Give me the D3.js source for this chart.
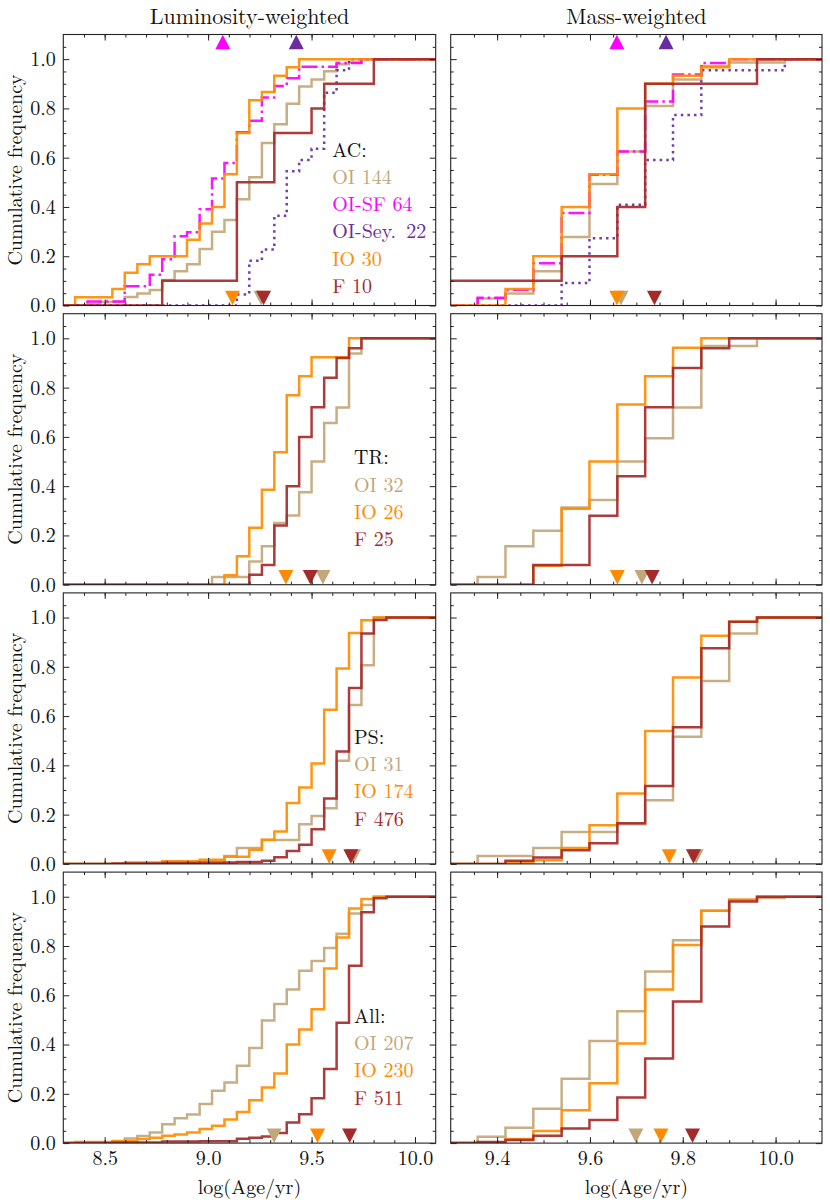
<!DOCTYPE html>
<html>
<head>
<meta charset="utf-8">
<script src="https://cdn.jsdelivr.net/npm/d3@7"></script>
<style>
body { margin: 0; background: #fff; }
svg { display: block; }
text { font-family: "Latin Modern Roman", "CMU Serif", "Liberation Serif", serif; white-space: pre; }
</style>
</head>
<body>
<div id="chart"></div>
<script>
// bin edges (log Age/yr) shared by every series of a column
const lumEdges = [8.357, 8.417, 8.477, 8.537, 8.597, 8.658, 8.718, 8.778, 8.838, 8.898, 8.959, 9.019, 9.079,
                  9.139, 9.199, 9.260, 9.320, 9.380, 9.440, 9.500, 9.561, 9.621, 9.681, 9.741, 9.801, 9.862];
const massEdges = [9.298, 9.358, 9.418, 9.478, 9.539, 9.599, 9.659, 9.719, 9.779, 9.840, 9.900, 9.960, 10.020];

// cumulative fractions, one value per bin (luminosity-weighted)
const acLumOI  = [0, 0.007, 0.014, 0.014, 0.035, 0.049, 0.063, 0.104, 0.139, 0.167, 0.229, 0.299, 0.347, 0.431, 0.521, 0.660, 0.736, 0.819, 0.889, 0.917, 0.951, 0.979, 0.986, 1, 1, 1];
const acLumSF  = [0, 0.016, 0.016, 0.016, 0.078, 0.078, 0.125, 0.188, 0.281, 0.297, 0.391, 0.516, 0.578, 0.703, 0.750, 0.844, 0.891, 0.922, 0.969, 0.969, 0.969, 0.984, 0.984, 1, 1, 1];
const acLumSey = [0, 0, 0, 0, 0, 0, 0, 0, 0, 0, 0, 0, 0, 0.045, 0.182, 0.227, 0.364, 0.545, 0.591, 0.636, 0.864, 0.955, 1, 1, 1, 1];
const acLumIO  = [0.033, 0.033, 0.033, 0.067, 0.133, 0.167, 0.2, 0.2, 0.2, 0.267, 0.333, 0.4, 0.533, 0.7, 0.833, 0.867, 0.933, 0.967, 1, 1, 1, 1, 1, 1, 1, 1];
const acLumF   = [0, 0, 0, 0, 0, 0, 0, 0.1, 0.1, 0.1, 0.1, 0.1, 0.1, 0.5, 0.5, 0.5, 0.7, 0.7, 0.7, 0.8, 0.9, 0.9, 0.9, 0.9, 1, 1];

const trLumOI = [0, 0, 0, 0, 0, 0, 0, 0, 0, 0, 0, 0.031, 0.031, 0.031, 0.094, 0.156, 0.25, 0.281, 0.375, 0.5, 0.656, 0.719, 0.938, 1, 1, 1];
const trLumIO = [0, 0, 0, 0, 0, 0, 0, 0, 0, 0, 0, 0, 0.038, 0.115, 0.231, 0.385, 0.538, 0.769, 0.846, 0.923, 0.923, 0.923, 1, 1, 1, 1];
const trLumF  = [0, 0, 0, 0, 0, 0, 0, 0, 0, 0, 0, 0, 0, 0, 0.04, 0.08, 0.24, 0.4, 0.6, 0.72, 0.84, 0.92, 0.96, 1, 1, 1];

const psLumOI = [0, 0, 0, 0, 0, 0, 0, 0, 0, 0, 0, 0, 0.032, 0.065, 0.065, 0.097, 0.097, 0.097, 0.161, 0.194, 0.226, 0.419, 0.645, 0.806, 1, 1];
const psLumIO = [0, 0, 0, 0, 0.006, 0.006, 0.006, 0.011, 0.011, 0.011, 0.017, 0.017, 0.029, 0.029, 0.057, 0.098, 0.132, 0.247, 0.31, 0.408, 0.626, 0.793, 0.937, 0.989, 1, 1];
const psLumF  = [0, 0, 0, 0.002, 0.002, 0.002, 0.002, 0.004, 0.004, 0.004, 0.006, 0.006, 0.006, 0.008, 0.008, 0.013, 0.027, 0.052, 0.078, 0.141, 0.265, 0.456, 0.714, 0.935, 0.99, 1];

const allLumOI = [0, 0, 0, 0, 0.019, 0.029, 0.043, 0.077, 0.101, 0.116, 0.159, 0.213, 0.246, 0.314, 0.386, 0.498, 0.565, 0.623, 0.7, 0.739, 0.792, 0.85, 0.932, 0.966, 1, 1];
const allLumIO = [0.004, 0.004, 0.004, 0.009, 0.009, 0.017, 0.022, 0.03, 0.035, 0.043, 0.057, 0.07, 0.096, 0.126, 0.174, 0.226, 0.283, 0.4, 0.461, 0.543, 0.709, 0.835, 0.952, 0.991, 1, 1];
const allLumF  = [0, 0, 0, 0.002, 0.002, 0.002, 0.002, 0.006, 0.006, 0.006, 0.008, 0.008, 0.008, 0.018, 0.022, 0.027, 0.041, 0.084, 0.117, 0.182, 0.301, 0.489, 0.72, 0.937, 0.994, 1];

// cumulative fractions (mass-weighted)
const acMassOI  = [0, 0.028, 0.049, 0.139, 0.278, 0.493, 0.625, 0.81, 0.917, 0.972, 0.986, 0.986, 1];
const acMassSF  = [0, 0.031, 0.063, 0.172, 0.375, 0.531, 0.625, 0.828, 0.938, 0.984, 1, 1, 1];
const acMassSey = [0, 0, 0, 0, 0.091, 0.273, 0.409, 0.591, 0.773, 0.955, 0.955, 0.955, 1];
const acMassIO  = [0, 0, 0.067, 0.2, 0.4, 0.533, 0.8, 0.9, 0.933, 0.967, 1, 1, 1];
const acMassF   = [0.1, 0.1, 0.1, 0.1, 0.2, 0.2, 0.4, 0.9, 0.9, 0.9, 0.9, 1, 1];

const trMassOI = [0, 0.031, 0.156, 0.219, 0.313, 0.344, 0.5, 0.594, 0.719, 0.969, 0.969, 1, 1];
const trMassIO = [0, 0, 0, 0.077, 0.308, 0.5, 0.731, 0.846, 0.962, 1, 1, 1, 1];
const trMassF  = [0, 0, 0, 0.08, 0.08, 0.28, 0.44, 0.72, 0.88, 0.96, 1, 1, 1];

const psMassOI = [0, 0.032, 0.032, 0.065, 0.129, 0.129, 0.161, 0.258, 0.516, 0.742, 0.935, 1, 1];
const psMassIO = [0, 0, 0.006, 0.015, 0.065, 0.157, 0.286, 0.539, 0.757, 0.926, 0.983, 1, 1];
const psMassF  = [0, 0, 0.013, 0.026, 0.055, 0.084, 0.165, 0.316, 0.555, 0.875, 0.983, 1, 1];

const allMassOI = [0, 0.026, 0.062, 0.139, 0.261, 0.414, 0.535, 0.697, 0.823, 0.943, 0.988, 0.995, 1];
const allMassIO = [0, 0, 0.017, 0.049, 0.133, 0.243, 0.404, 0.623, 0.804, 0.943, 0.988, 1, 1];
const allMassF  = [0, 0.004, 0.013, 0.03, 0.059, 0.094, 0.185, 0.343, 0.575, 0.879, 0.981, 1, 1];

// medians (triangles), same order as the series of each panel
const acLumMed  = [9.256, 9.071, 9.426, 9.118, 9.268];
const acMassMed = [9.667, 9.658, 9.764, 9.658, 9.739];
const trLumMed  = [9.555, 9.376, 9.494];
const trMassMed = [9.712, 9.659, 9.734];
const psLumMed  = [9.703, 9.585, 9.690];
const psMassMed = [9.829, 9.771, 9.823];
const allLumMed = [9.319, 9.529, 9.684];
const allMassMed = [9.699, 9.753, 9.821];

// sample sizes for the legends
const acCounts  = [144, 64, 22, 30, 10];
const trCounts  = [32, 26, 25];
const psCounts  = [31, 174, 476];
const allCounts = [207, 230, 511];

const colTitles = ["Luminosity-weighted", "Mass-weighted"];
const lumTicks = [8.5, 9.0, 9.5, 10.0];
const massTicks = [9.4, 9.6, 9.8, 10.0];
const yTicks = [0, 0.2, 0.4, 0.6, 0.8, 1.0];

const styles = {
    OI:  { color: "#c2a77a", dash: null, label: "OI " },
    SF:  { color: "#ff00ff", dash: "16,4,2.5,4", label: "OI-SF " },
    Sey: { color: "#6a2d9f", dash: "2.5,4.1", label: "OI-Sey.\u2002" },
    IO:  { color: "#ff8c00", dash: null, label: "IO " },
    F:   { color: "#a52a2a", dash: null, label: "F " }
};

const rows = [
    { head: "AC:", keys: ["OI", "SF", "Sey", "IO", "F"], counts: acCounts,
      lum: [acLumOI, acLumSF, acLumSey, acLumIO, acLumF], mass: [acMassOI, acMassSF, acMassSey, acMassIO, acMassF],
      lumMed: acLumMed, massMed: acMassMed },
    { head: "TR:", keys: ["OI", "IO", "F"], counts: trCounts,
      lum: [trLumOI, trLumIO, trLumF], mass: [trMassOI, trMassIO, trMassF], lumMed: trLumMed, massMed: trMassMed },
    { head: "PS:", keys: ["OI", "IO", "F"], counts: psCounts,
      lum: [psLumOI, psLumIO, psLumF], mass: [psMassOI, psMassIO, psMassF], lumMed: psLumMed, massMed: psMassMed },
    { head: "All:", keys: ["OI", "IO", "F"], counts: allCounts,
      lum: [allLumOI, allLumIO, allLumF], mass: [allMassOI, allMassIO, allMassF], lumMed: allLumMed, massMed: allMassMed }
];

const W = 830, H = 1203;
const rowTop = 34.5, rowH = 271, rowGap = 8.2;
const fontSize = 20;

var svg = d3.select("#chart").append("svg").attr("width", W).attr("height", H);

var xLum = d3.scaleLinear().domain([8.3, 10.1]).range([63.3, 435.7]);
var xMass = d3.scaleLinear().domain([9.3, 10.1]).range([450.7, 822]);
var columns = [
    { x: xLum, edges: lumEdges, ticks: lumTicks, minor: d3.range(8.4, 10.05, 0.1), field: "lum", med: "lumMed" },
    { x: xMass, edges: massEdges, ticks: massTicks, minor: d3.range(9.35, 10.08, 0.05), field: "mass", med: "massMed" }
];

// column titles
columns.forEach(function(c, ci) {
    var r = c.x.range();
    svg.append("text").attr("x", (r[0] + r[1]) / 2).attr("y", 24)
        .attr("text-anchor", "middle").attr("font-size", 22).attr("fill", "#111")
        .text(colTitles[ci]);
});

function triangle(up) {
    var w = 15, h = 14.5;
    return up ? "M0," + (-h / 2) + "L" + (w / 2) + "," + (h / 2) + "L" + (-w / 2) + "," + (h / 2) + "Z"
              : "M0," + (h / 2) + "L" + (w / 2) + "," + (-h / 2) + "L" + (-w / 2) + "," + (-h / 2) + "Z";
}

rows.forEach(function(row, ri) {
    var top = rowTop + ri * (rowH + rowGap);
    var y = d3.scaleLinear().domain([0, 1.1]).range([top + rowH, top]);
    var last = ri == rows.length - 1;

    columns.forEach(function(col, ci) {
        var x = col.x;
        var xr = x.range();
        var g = svg.append("g");
        var clipId = "clip" + ri + "_" + ci;
        svg.append("clipPath").attr("id", clipId).append("rect")
            .attr("x", xr[0]).attr("y", top).attr("width", xr[1] - xr[0]).attr("height", rowH);

        // cumulative step curves
        var line = d3.line().x(function(d) { return x(d[0]); }).y(function(d) { return y(d[1]); })
            .curve(d3.curveStepAfter);
        var lines = g.append("g").attr("clip-path", "url(#" + clipId + ")");
        row.keys.forEach(function(k, si) {
            var vals = row[col.field][si];
            var pts = [[x.domain()[0], 0]];
            vals.forEach(function(v, i) { pts.push([col.edges[i], v]); });
            pts.push([x.domain()[1], vals[vals.length - 1]]);
            lines.append("path").attr("d", line(pts))
                .attr("fill", "none").attr("stroke", styles[k].color).attr("stroke-width", 2.5)
                .attr("stroke-opacity", 0.92)
                .attr("stroke-dasharray", styles[k].dash);
        });

        // median markers
        row.keys.forEach(function(k, si) {
            var up = (k == "SF" || k == "Sey");
            g.append("path").attr("d", triangle(up))
                .attr("transform", "translate(" + x(row[col.med][si]) + "," + y(up ? 1.07 : 0.03) + ")")
                .attr("fill", styles[k].color);
        });

        // ticks, pointing inward on all four sides
        function axis(gen, pos, values, size, labels, pad) {
            var a = g.append("g").attr("transform", pos)
                .call(gen.tickValues(values).tickSize(-size).tickPadding(pad)
                    .tickFormat(labels ? d3.format(".1f") : ""));
            a.select(".domain").remove();
            a.selectAll("line").attr("stroke", "#222").attr("stroke-width", 1);
            a.selectAll("text").attr("font-size", fontSize).attr("fill", "#111")
                .attr("font-family", null);
            return a;
        }
        var yMinor = d3.range(0.05, 1.08, 0.05).filter(function(v) { return Math.abs(v * 5 - Math.round(v * 5)) > 1e-6; });
        axis(d3.axisBottom(x), "translate(0," + (top + rowH) + ")", col.ticks, 6, last, 8);
        axis(d3.axisBottom(x), "translate(0," + (top + rowH) + ")", col.minor, 3, false, 8);
        axis(d3.axisTop(x), "translate(0," + top + ")", col.ticks, 6, false, 3);
        axis(d3.axisTop(x), "translate(0," + top + ")", col.minor, 3, false, 3);
        axis(d3.axisLeft(y), "translate(" + xr[0] + ",0)", yTicks, 6, ci == 0, 7.5);
        axis(d3.axisLeft(y), "translate(" + xr[0] + ",0)", yMinor, 3, false, 7.5);
        axis(d3.axisRight(y), "translate(" + xr[1] + ",0)", yTicks, 6, false, 3);
        axis(d3.axisRight(y), "translate(" + xr[1] + ",0)", yMinor, 3, false, 3);

        // frame
        g.append("rect").attr("x", xr[0]).attr("y", top).attr("width", xr[1] - xr[0]).attr("height", rowH)
            .attr("fill", "none").attr("stroke", "#222").attr("stroke-width", 1.1);

        if (last) {
            g.append("text").attr("x", (xr[0] + xr[1]) / 2).attr("y", 1194)
                .attr("text-anchor", "middle").attr("font-size", fontSize).attr("fill", "#111")
                .text("log(Age/yr)");
        }
    });

    // y label
    svg.append("text")
        .attr("transform", "translate(22," + (top + rowH / 2) + ") rotate(-90)")
        .attr("text-anchor", "middle").attr("font-size", fontSize).attr("fill", "#111")
        .text("Cumulative frequency");

    // legend
    var lx = xLum(ri == 0 ? 9.6 : 9.705);
    var ly = top + (ri == 0 ? 122 : 150.7);
    svg.append("text").attr("x", lx).attr("y", ly).attr("font-size", fontSize).attr("fill", "#111").text(row.head);
    row.keys.forEach(function(k, si) {
        svg.append("text").attr("x", lx).attr("y", ly + 27.3 * (si + 1))
            .attr("font-size", fontSize).attr("fill", styles[k].color)
            .text(styles[k].label + row.counts[si]);
    });
});
</script>
</body>
</html>
